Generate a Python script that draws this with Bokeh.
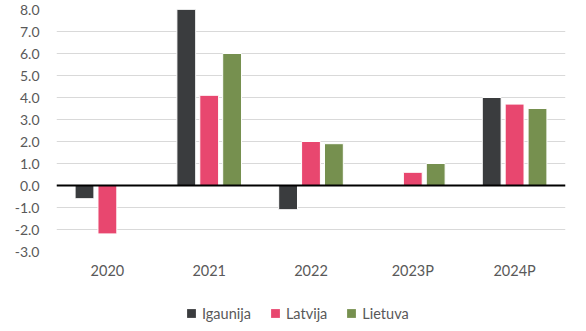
from bokeh.plotting import figure
from bokeh.layouts import column
from bokeh.models import ColumnDataSource, FactorRange, Range1d, FixedTicker, NumeralTickFormatter, Span, Legend, LegendItem
from bokeh.transform import dodge
from bokeh.embed import file_html
from bokeh.resources import INLINE

years = ["2020", "2021", "2022", "2023P", "2024P"]
series_names = ["Igaunija", "Latvija", "Lietuva"]
igaunija = [-0.6, 8.0, -1.1, 0.0, 4.0]
latvija = [-2.2, 4.1, 2.0, 0.6, 3.7]
lietuva = [0.0, 6.0, 1.9, 1.0, 3.5]
y_ticks = [-3, -2, -1, 0, 1, 2, 3, 4, 5, 6, 7, 8]
colors = ["#3a3c3e", "#e8476f", "#76904f"]

FONT = "Lato"
TXT = "#595959"

src = ColumnDataSource(dict(year=years, Igaunija=igaunija, Latvija=latvija, Lietuva=lietuva))

p = figure(width=586, height=290, x_range=FactorRange(*years), y_range=Range1d(-3, 8),
           output_backend="svg", toolbar_location=None,
           min_border_left=56, min_border_right=21, min_border_top=9, min_border_bottom=39)
p.outline_line_color = None

offsets = [-0.225, 0.0, 0.225]
for name, off, col in zip(series_names, offsets, colors):
    p.vbar(x=dodge("year", off, range=p.x_range), top=name, bottom=0, width=0.185, source=src,
           fill_color=col, line_color="white", line_width=1)

p.add_layout(Span(location=0, dimension="width", line_color="black", line_width=2))

p.xgrid.grid_line_color = None
p.ygrid.grid_line_color = "#d9d9d9"
p.ygrid.grid_line_width = 1
p.yaxis.ticker = FixedTicker(ticks=y_ticks)
p.yaxis.formatter = NumeralTickFormatter(format="0.0")

for ax in (p.xaxis[0], p.yaxis[0]):
    ax.axis_line_color = None
    ax.major_tick_line_color = None
    ax.minor_tick_line_color = None
    ax.major_tick_out = 0
    ax.major_tick_in = 0
    ax.major_label_text_font = FONT
    ax.major_label_text_font_size = "14px"
    ax.major_label_text_color = TXT
p.xaxis.major_label_text_font_size = "14.5px"
p.yaxis.major_label_standoff = 17
p.xaxis.major_label_standoff = 10

# legend strip: same series, drawn outside its visible y-range so only the legend shows
lg = figure(width=586, height=41, output_backend="svg", toolbar_location=None,
            x_range=p.x_range, y_range=Range1d(100, 101),
            x_axis_type=None, y_axis_type=None, min_border=0)
lg.outline_line_color = None
lg.grid.grid_line_color = None
leg_rs = []
for name, off, col in zip(series_names, offsets, colors):
    leg_rs.append(lg.scatter(x=dodge("year", off, range=p.x_range), y=name, marker="square", size=9,
                             source=src, fill_color=col, line_color=None))

legend = Legend(items=[LegendItem(label=n, renderers=[r]) for n, r in zip(series_names, leg_rs)],
                orientation="horizontal", location=(124, 7),
                glyph_width=22, glyph_height=22, label_standoff=0, spacing=13,
                label_text_font=FONT, label_text_font_size="14.5px", label_text_color=TXT,
                border_line_color=None, background_fill_alpha=0, padding=0, margin=0)
lg.add_layout(legend, "center")

open("out.html", "w").write(file_html(column(p, lg), INLINE))
